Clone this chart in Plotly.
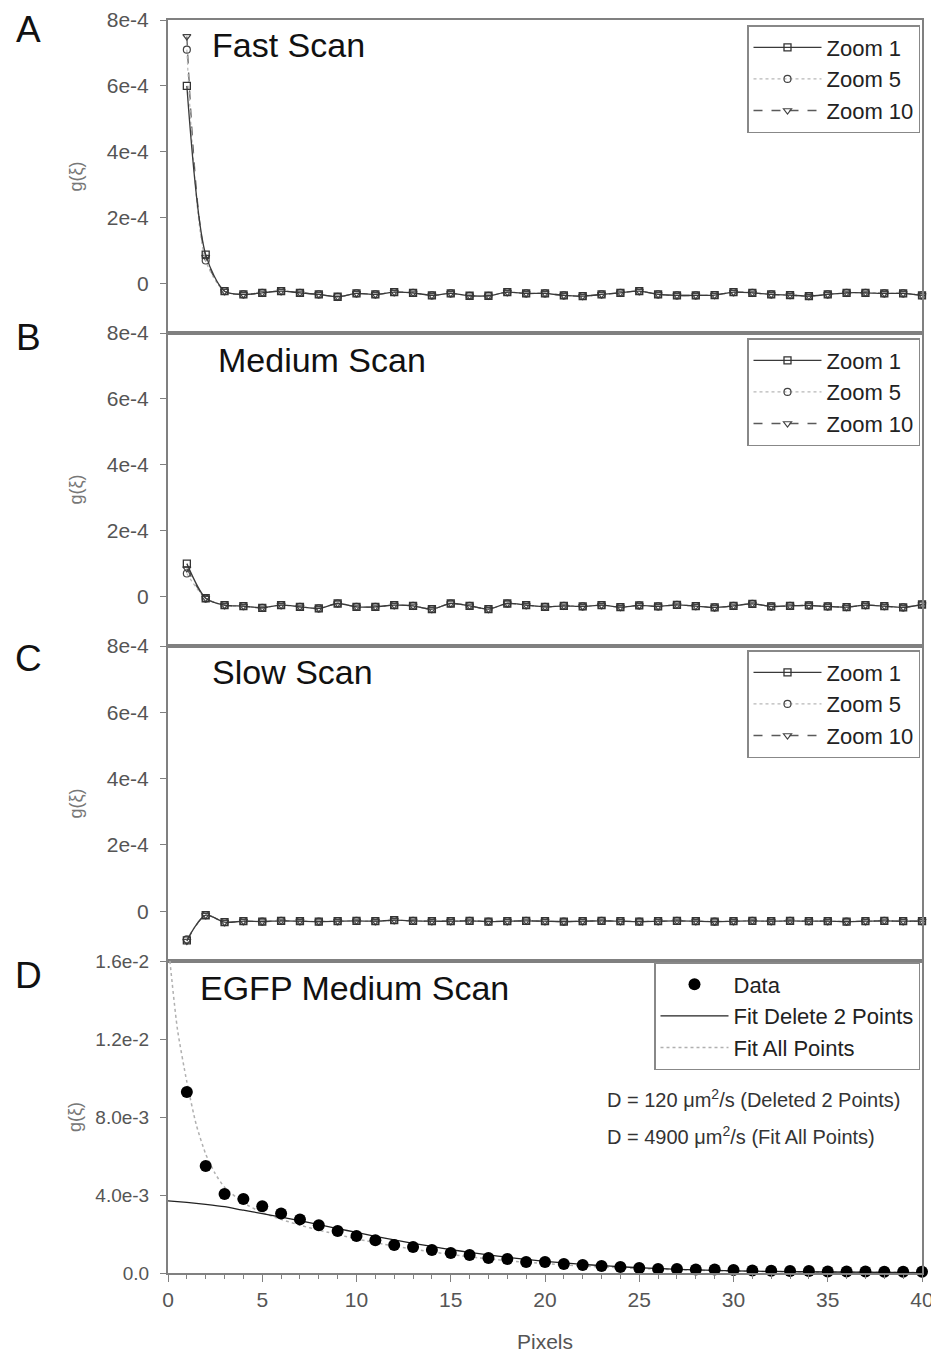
import plotly.graph_objects as go

# ---------------- data (g values in units of 1e-4 for A-C, 1e-3 for D) ----------------
A_zoom1_head = [6.0, 0.88]
A_zoom5_head = [7.1, 0.70]
A_zoom10_head = [7.5, 0.80]
A_tail = [-0.23, -0.33, -0.28, -0.23, -0.28, -0.33, -0.40, -0.30, -0.33, -0.26,
          -0.28, -0.36, -0.30, -0.37, -0.37, -0.26, -0.30, -0.30, -0.36, -0.38,
          -0.33, -0.28, -0.23, -0.33, -0.36, -0.36, -0.35, -0.26, -0.28, -0.33,
          -0.35, -0.38, -0.33, -0.28, -0.28, -0.30, -0.30, -0.36]

B_zoom1_head = [1.00, -0.05]
B_zoom5_head = [0.70, -0.06]
B_zoom10_head = [0.85, -0.05]
B_tail = [-0.26, -0.29, -0.34, -0.26, -0.31, -0.36, -0.21, -0.31, -0.31, -0.26,
          -0.28, -0.38, -0.21, -0.28, -0.38, -0.21, -0.26, -0.31, -0.28, -0.30,
          -0.26, -0.32, -0.27, -0.30, -0.25, -0.29, -0.33, -0.28, -0.22, -0.30,
          -0.28, -0.27, -0.30, -0.32, -0.26, -0.29, -0.33, -0.24]

C_zoom1_head = [-0.88, -0.12]
C_zoom5_head = [-0.85, -0.12]
C_zoom10_head = [-0.90, -0.12]
C_tail = [-0.33, -0.30, -0.31, -0.29, -0.30, -0.31, -0.30, -0.29, -0.30, -0.27,
          -0.29, -0.30, -0.30, -0.29, -0.31, -0.30, -0.29, -0.30, -0.31, -0.30,
          -0.29, -0.30, -0.31, -0.30, -0.29, -0.30, -0.31, -0.30, -0.29, -0.30,
          -0.29, -0.30, -0.30, -0.31, -0.30, -0.29, -0.30, -0.30]

D_data = [9.28, 5.49, 4.05, 3.80, 3.42, 3.05, 2.75, 2.45, 2.15, 1.90,
          1.68, 1.44, 1.33, 1.18, 1.03, 0.92, 0.77, 0.72, 0.56, 0.56,
          0.46, 0.41, 0.36, 0.31, 0.26, 0.21, 0.20, 0.18, 0.18, 0.15,
          0.13, 0.12, 0.10, 0.10, 0.08, 0.08, 0.08, 0.07, 0.06, 0.06]

fit_del_x = [0, 1, 2, 3, 4, 5, 6, 7, 8, 9, 10, 11, 12, 13, 14, 15, 16, 17, 18, 19,
             20, 21, 22, 23, 24, 25, 26, 27, 28, 29, 30, 32, 35, 40]
fit_del_y = [3.70, 3.62, 3.52, 3.40, 3.22, 3.05, 2.87, 2.68, 2.48, 2.28,
             2.08, 1.88, 1.70, 1.52, 1.36, 1.20, 1.06, 0.93, 0.81, 0.70,
             0.60, 0.52, 0.44, 0.38, 0.32, 0.27, 0.23, 0.19, 0.16, 0.13,
             0.11, 0.08, 0.05, 0.02]

fit_all_x = [0.1, 0.5, 1, 1.5, 2, 2.5, 3, 4, 5, 6, 7, 8, 10, 12, 14, 16, 18, 20,
             22, 25, 30, 35, 40]
fit_all_y = [16.0, 12.5, 9.8, 7.6, 6.1, 5.1, 4.4, 3.6, 3.1, 2.75, 2.45, 2.2, 1.75,
             1.38, 1.08, 0.83, 0.63, 0.48, 0.36, 0.23, 0.10, 0.05, 0.03]

panel_titles = ["Fast Scan", "Medium Scan", "Slow Scan", "EGFP Medium Scan"]
panel_letters = ["A", "B", "C", "D"]
zoom_names = ["Zoom 1", "Zoom 5", "Zoom 10"]

ytick_small_vals = [0, 2e-4, 4e-4, 6e-4, 8e-4]
ytick_small_text = ["0", "2e-4", "4e-4", "6e-4", "8e-4"]
ytick_D_vals = [0, 4e-3, 8e-3, 1.2e-2, 1.6e-2]
ytick_D_text = ["0.0", "4.0e-3", "8.0e-3", "1.2e-2", "1.6e-2"]
xtick_vals = [0, 5, 10, 15, 20, 25, 30, 35, 40]

# ---------------- layout geometry ----------------
# the html page body has an 8px margin, so the figure is placed at (8, 8)
OFF = 8
W, H = 939 - OFF, 1359 - OFF
# target page-pixel positions of the plot area: x 168..922, y 20..1273
ML, MR, MT, MB = 168 - OFF, 939 - 922, 20 - OFF, 1359 - 1273
plot_h = H - MT - MB  # 1253
plot_w = W - ML - MR  # 754
bounds_px = [20, 333, 646, 961, 1273]   # page pixels
def py(ypx):  # page pixel -> paper y
    return (1273 - ypx) / plot_h
def px(xpx):  # page pixel -> paper x
    return (xpx - 168) / plot_w

domains = [[py(bounds_px[i + 1]), py(bounds_px[i])] for i in range(4)]

fig = go.Figure()

AX = "#808080"
FAM = "Liberation Sans, Arial"
TICKFONT = dict(family=FAM, size=21, color="#555555")

zoom_styles = [
    dict(line=dict(color="#3a3a3a", width=1.3, dash="solid"),
         marker=dict(symbol="square-open", size=7, color="#333333", line=dict(width=1.3))),
    dict(line=dict(color="#b8b8b8", width=1.2, dash="dot"),
         marker=dict(symbol="circle-open", size=7, color="#444444", line=dict(width=1.2))),
    dict(line=dict(color="#5a5a5a", width=1.3, dash="dash"),
         marker=dict(symbol="triangle-down-open", size=7, color="#444444", line=dict(width=1.2))),
]

heads = [
    [A_zoom1_head, A_zoom5_head, A_zoom10_head],
    [B_zoom1_head, B_zoom5_head, B_zoom10_head],
    [C_zoom1_head, C_zoom5_head, C_zoom10_head],
]
tails = [A_tail, B_tail, C_tail]
legend_ids = ["legend", "legend2", "legend3"]

for p in range(3):
    axn = "" if p == 0 else str(p + 1)
    for k in [2, 1, 0]:
        vals = heads[p][k] + tails[p]
        xs = list(range(1, len(vals) + 1))
        st = zoom_styles[k]
        fig.add_trace(go.Scatter(
            x=xs, y=[v * 1e-4 for v in vals], mode="lines+markers",
            name=zoom_names[k], line=dict(shape="spline", smoothing=0.8, **st["line"]),
            marker=st["marker"], cliponaxis=False,
            xaxis="x" + axn, yaxis="y" + axn, legend=legend_ids[p],
            legendrank=k + 1,
        ))

# Panel D
fig.add_trace(go.Scatter(
    x=fit_all_x, y=[v * 1e-3 for v in fit_all_y], mode="lines", name="Fit All Points",
    line=dict(color="#b0b0b0", width=1.5, dash="dot", shape="spline", smoothing=0.6),
    xaxis="x4", yaxis="y4", legend="legend4", legendrank=3))
fig.add_trace(go.Scatter(
    x=fit_del_x, y=[v * 1e-3 for v in fit_del_y], mode="lines", name="Fit Delete 2 Points",
    line=dict(color="#222222", width=1.3, shape="spline", smoothing=0.6),
    xaxis="x4", yaxis="y4", legend="legend4", legendrank=2))
fig.add_trace(go.Scatter(
    x=list(range(1, len(D_data) + 1)), y=[v * 1e-3 for v in D_data], mode="markers",
    name="Data", marker=dict(symbol="circle", size=12, color="#000000"),
    cliponaxis=False, xaxis="x4", yaxis="y4", legend="legend4", legendrank=1))

layout = dict(
    width=W, height=H,
    margin=dict(l=ML, r=MR, t=MT, b=MB, autoexpand=False),
    paper_bgcolor="white", plot_bgcolor="white",
    font=dict(family=FAM, color="#222222"),
)

for p in range(4):
    axn = "" if p == 0 else str(p + 1)
    xa = dict(domain=[0, 1], range=[0, 40], anchor="y" + axn, showgrid=False,
              zeroline=False, showline=True, linecolor=AX, linewidth=2, mirror=True,
              automargin=False)
    if p == 3:
        xa.update(tickvals=xtick_vals, ticks="outside", ticklen=7, tickcolor=AX,
                  tickfont=dict(family=FAM, size=21, color="#555555"),
                  minor=dict(dtick=1, ticks="outside", ticklen=4, tickcolor=AX),
                  title=dict(text="Pixels", standoff=24,
                             font=dict(family=FAM, size=21, color="#555555")))
    else:
        xa.update(showticklabels=False, ticks="")
    ya = dict(domain=domains[p], anchor="x" + axn, showgrid=False, zeroline=False,
              showline=True, linecolor=AX, linewidth=2, mirror=True, automargin=False,
              ticks="outside", ticklen=6, tickcolor=AX, tickfont=TICKFONT,
              ticklabelstandoff=7)
    if p == 3:
        ya.update(range=[0, 0.016], tickvals=ytick_D_vals, ticktext=ytick_D_text,
                  tickfont=dict(family=FAM, size=19, color="#555555"))
    else:
        ya.update(range=[-1.5e-4, 8e-4], tickvals=ytick_small_vals, ticktext=ytick_small_text)
    layout["xaxis" + axn] = xa
    layout["yaxis" + axn] = ya

legend_tops = [25, 338, 650]
for p in range(3):
    layout[legend_ids[p]] = dict(
        x=px(920), xanchor="right", y=py(legend_tops[p]), yanchor="top",
        bordercolor="#888888", borderwidth=1.5, bgcolor="white",
        font=dict(family=FAM, size=22, color="#222222"),
        itemwidth=68, tracegroupgap=0,
    )
layout["legend4"] = dict(
    x=px(920), xanchor="right", y=py(962), yanchor="top",
    bordercolor="#888888", borderwidth=1.5, bgcolor="white",
    font=dict(family=FAM, size=22, color="#222222"),
    itemwidth=68, tracegroupgap=0,
)

annotations = []
title_pos = [(210, 45), (216, 360), (210, 672), (198, 988)]
letter_pos = [(28, 30), (28, 337), (28, 658), (28, 975)]
for p in range(4):
    tx, ty = title_pos[p]
    annotations.append(dict(text=panel_titles[p], x=px(tx), y=py(ty), xref="paper", yref="paper",
                            xanchor="left", yanchor="middle", showarrow=False,
                            font=dict(family=FAM, size=34, color="#111111")))
    lx, ly = letter_pos[p]
    annotations.append(dict(text=panel_letters[p], x=px(lx), y=py(ly), xref="paper", yref="paper",
                            xanchor="center", yanchor="middle", showarrow=False,
                            font=dict(family=FAM, size=37, color="#111111")))
    cy = (bounds_px[p] + bounds_px[p + 1]) / 2
    annotations.append(dict(text="g(ξ)", x=px(75), y=py(cy), xref="paper", yref="paper",
                            xanchor="center", yanchor="middle", showarrow=False, textangle=-90,
                            font=dict(family=FAM, size=18, color="#777777")))

annotations.append(dict(text="D = 120 μm<sup>2</sup>/s (Deleted 2 Points)", x=px(605), y=py(1098),
                        xref="paper", yref="paper", xanchor="left", yanchor="middle", showarrow=False,
                        font=dict(family=FAM, size=20, color="#333333")))
annotations.append(dict(text="D = 4900 μm<sup>2</sup>/s (Fit All Points)", x=px(605), y=py(1135),
                        xref="paper", yref="paper", xanchor="left", yanchor="middle", showarrow=False,
                        font=dict(family=FAM, size=20, color="#333333")))
layout["annotations"] = annotations

fig.update_layout(**layout)
fig.write_html("out.html")
